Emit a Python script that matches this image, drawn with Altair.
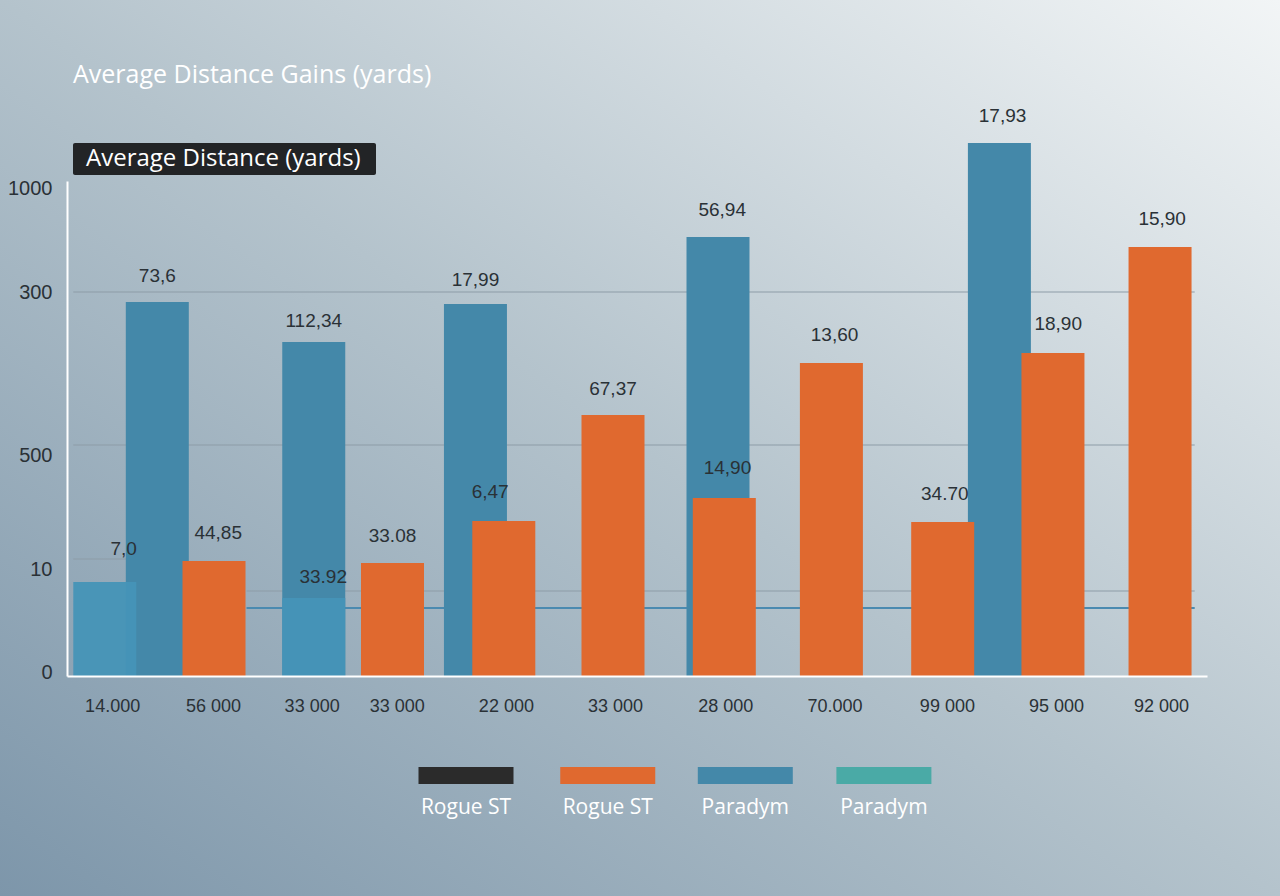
import altair as alt
import pandas as pd

# ---------------- data ----------------
# x positions are in "slot" units (1 = first category label), heights in chart units
x_tick_pos = [1.00, 1.96, 2.90, 3.71, 4.75, 5.79, 6.84, 7.88, 8.95, 9.99, 10.99]
x_tick_labels = ["14.000", "56 000", "33 000", "33 000", "22 000", "33 000",
                 "28 000", "70.000", "99 000", "95 000", "92 000"]

y_tick_pos = [4, 107, 221, 384, 488]
y_tick_labels = ["0", "10", "500", "300", "1000"]

# Paradym (dark blue) bars
blue_pos = [1.43, 2.92, 4.46, 6.77, 9.45]
blue_val = [374, 334, 372, 439, 533]
blue_lbl = ["73,6", "112,34", "17,99", "56,94", "17,93"]
blue_lbl_x = [1.43, 2.92, 4.46, 6.81, 9.48]
blue_lbl_y = [400, 355, 396, 466, 560]

# Paradym (light blue) bars
light_pos = [0.93, 2.92]
light_val = [94, 78]
light_lbl = ["7,0", "33.92"]
light_lbl_x = [1.11, 3.01]
light_lbl_y = [127, 99]

# Rogue ST (orange) bars
orange_pos = [1.97, 3.67, 4.73, 5.77, 6.83, 7.85, 8.91, 9.96, 10.98]
orange_val = [115, 113, 155, 261, 178, 313, 154, 323, 429]
orange_lbl = ["44,85", "33.08", "6,47", "67,37", "14,90", "13,60", "34.70", "18,90", "15,90"]
orange_lbl_x = [2.01, 3.67, 4.60, 5.77, 6.86, 7.88, 8.93, 10.01, 11.00]
orange_lbl_y = [143, 140, 184, 287, 208, 341, 182, 352, 457]

# reference lines (y value, x start, x end)
grid_y = [384, 231, 117, 85]
grid_x1 = [0.63, 0.63, 0.63, 2.28]
grid_x2 = [11.31, 11.31, 1.20, 11.31]
blue_line_y = [68]
blue_line_x1 = [2.28]
blue_line_x2 = [11.31]

# legend
legend_labels = ["Rogue ST", "Rogue ST", "Paradym", "Paradym"]
legend_colors = ["#2b2b2b", "#e0692f", "#4488a9", "#4aaaa6"]
legend_x = [4.37, 5.72, 7.03, 8.35]

title_text = "Average Distance Gains (yards)"
box_text = "Average Distance (yards)"

# ---------------- layout ----------------
W, H = 1140, 495
PAD = {"left": 67, "top": 181, "right": 73, "bottom": 220}
XDOM = [0.57, 0.57 + W / 105]
YDOM = [0, H]

DARK = "#4488a9"
LIGHT = "#4694b7"
ORANGE = "#e0692f"
TXT = "#2a3136"


def expr_from(pos, labels):
    parts = [f"datum.value == {p} ? '{l}'" for p, l in zip(pos, labels)]
    return " : ".join(parts) + " : ''"


x_axis = alt.Axis(values=x_tick_pos, labelExpr=expr_from(x_tick_pos, x_tick_labels),
                  grid=False, ticks=False, domainColor="white", domainWidth=2,
                  labelPadding=21, labelFontSize=18, labelColor=TXT, labelFont="Liberation Sans",
                  labelOverlap=False, labelFlush=False, title=None, zindex=1)
y_axis = alt.Axis(values=y_tick_pos, labelExpr=expr_from(y_tick_pos, y_tick_labels),
                  grid=False, ticks=False, domainColor="white", domainWidth=2,
                  labelPadding=15, labelFontSize=20, labelColor=TXT, labelFont="Liberation Sans",
                  labelOverlap=False, labelFlush=False, title=None, zindex=1)


def X(field):
    return alt.X(field, type="quantitative",
                 scale=alt.Scale(domain=XDOM, nice=False, zero=False, padding=0), axis=x_axis)


def Y(field):
    return alt.Y(field, type="quantitative",
                 scale=alt.Scale(domain=YDOM, nice=False, zero=False, padding=0), axis=y_axis)


blue_df = pd.DataFrame({"pos": blue_pos, "val": blue_val, "lbl": blue_lbl,
                        "lx": blue_lbl_x, "ly": blue_lbl_y})
light_df = pd.DataFrame({"pos": light_pos, "val": light_val, "lbl": light_lbl,
                         "lx": light_lbl_x, "ly": light_lbl_y})
orange_df = pd.DataFrame({"pos": orange_pos, "val": orange_val, "lbl": orange_lbl,
                          "lx": orange_lbl_x, "ly": orange_lbl_y})
grid_df = pd.DataFrame({"y": grid_y, "x1": grid_x1, "x2": grid_x2})
bline_df = pd.DataFrame({"y": blue_line_y, "x1": blue_line_x1, "x2": blue_line_x2})
legend_df = pd.DataFrame({"lab": legend_labels, "col": legend_colors, "x": legend_x,
                          "ytop": [-91] * 4, "ybot": [-108] * 4, "ty": [-132] * 4})
one = pd.DataFrame({"a": [0]})

# background gradient
bg = alt.Chart(one).mark_rect(
    color=alt.LinearGradient(
        gradient="linear", x1=0, y1=1, x2=1, y2=0,
        stops=[alt.GradientStop(color="#7d96aa", offset=0),
               alt.GradientStop(color="#b4c3cc", offset=0.5),
               alt.GradientStop(color="#f2f5f6", offset=1)])
).encode(x=alt.value(-PAD["left"]), x2=alt.value(W + PAD["right"]),
         y=alt.value(-PAD["top"]), y2=alt.value(H + PAD["bottom"]))

grid = alt.Chart(grid_df).mark_rule(color="#8d9ca7", strokeWidth=1).encode(
    x=X("x1"), x2="x2", y=Y("y"))
bline = alt.Chart(bline_df).mark_rule(color="#4a8ab0", strokeWidth=2).encode(
    x=X("x1"), x2="x2", y=Y("y"))

dark_bars = alt.Chart(blue_df).mark_bar(color=DARK, size=63).encode(x=X("pos"), y=Y("val"))
light_bars = alt.Chart(light_df).mark_bar(color=LIGHT, size=63, opacity=0.96).encode(
    x=X("pos"), y=Y("val"))
orange_bars = alt.Chart(orange_df).mark_bar(color=ORANGE, size=63).encode(x=X("pos"), y=Y("val"))


def labels(df):
    return alt.Chart(df).mark_text(fontSize=19, color=TXT, font="Liberation Sans",
                                   baseline="middle", align="center").encode(
        x=X("lx"), y=Y("ly"), text="lbl")


# title and dark subtitle box
title = alt.Chart(one).mark_text(text=title_text, fontSize=25, color="white", font="Open Sans",
                                 align="left", baseline="middle").encode(
    x=alt.value(6), y=alt.value(-106))
box = alt.Chart(one).mark_rect(color="#222426", cornerRadius=2).encode(
    x=alt.value(6), x2=alt.value(309), y=alt.value(-38), y2=alt.value(-6))
box_txt = alt.Chart(one).mark_text(text=box_text, fontSize=24, color="white", font="Open Sans",
                                   align="left", baseline="middle").encode(
    x=alt.value(19), y=alt.value(-22))

# legend
leg_rect = alt.Chart(legend_df).mark_bar(size=95).encode(
    x=X("x"), y=Y("ytop"), y2="ybot", color=alt.Color("col:N", scale=None))
leg_txt = alt.Chart(legend_df).mark_text(fontSize=21, color="white", font="Open Sans",
                                         baseline="middle", align="center").encode(
    x=X("x"), y=Y("ty"), text="lab")

chart = alt.layer(
    bg, grid, bline, dark_bars, light_bars, orange_bars,
    labels(blue_df), labels(light_df), labels(orange_df),
    title, box, box_txt, leg_rect, leg_txt
).properties(
    width=W, height=H,
    autosize=alt.AutoSizeParams(type="none"),
    padding=PAD,
    background="#b4c3cc",
).configure_view(stroke=None)

chart.save("out.html", embed_options={"renderer": "svg", "actions": False})
